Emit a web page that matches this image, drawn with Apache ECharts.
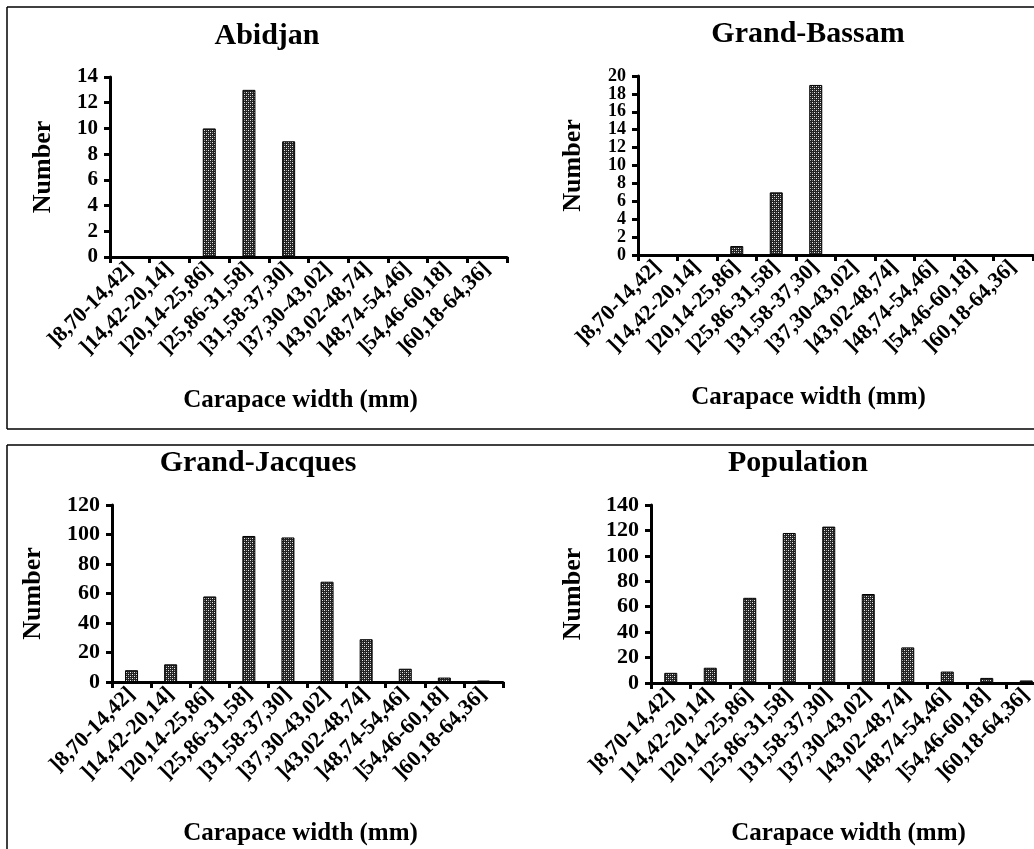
<!DOCTYPE html>
<html>
<head>
  <meta charset="utf-8">
  <title>Carapace width distribution</title>
  <script src="https://cdn.jsdelivr.net/npm/echarts@6.0.0/dist/echarts.min.js"></script>
  <style>
    body { margin: 0; background: #fff; }
    #chart { width: 1034px; height: 849px; }
  </style>
</head>
<body>
  <div id="chart"></div>
  <script>
    const categories = [']8,70-14,42]', ']14,42-20,14]', ']20,14-25,86]', ']25,86-31,58]', ']31,58-37,30]',
      ']37,30-43,02]', ']43,02-48,74]', ']48,74-54,46]', ']54,46-60,18]', ']60,18-64,36]'];
    const abidjan = [0, 0, 10, 13, 9, 0, 0, 0, 0, 0];
    const grandBassam = [0, 0, 1, 7, 19, 0, 0, 0, 0, 0];
    const grandJacques = [8, 12, 58, 99, 98, 68, 29, 9, 3, 1];
    const population = [8, 12, 67, 118, 123, 70, 28, 9, 4, 2];

    const panelTitles = ['Abidjan', 'Grand-Bassam', 'Grand-Jacques', 'Population'];
    const yMax = [14, 20, 120, 140];
    const yStep = [2, 2, 20, 20];

    const FONT = 'Liberation Serif';

    // dotted fill like the printed hatch
    function makePattern() {
      const c = document.createElement('canvas');
      c.width = 4; c.height = 4;
      const g = c.getContext('2d');
      g.fillStyle = '#222'; g.fillRect(0, 0, 4, 4);
      g.fillStyle = '#888';
      g.fillRect(0, 0, 1, 1); g.fillRect(2, 2, 1, 1);
      g.fillStyle = '#eee';
      g.fillRect(2, 0, 1, 1); g.fillRect(0, 2, 1, 1);
      return c;
    }
    const pattern = { image: makePattern(), repeat: 'repeat' };

    const grids = [
      { left: 110, top: 77, width: 397, height: 180 },
      { left: 638, top: 76, width: 395, height: 179 },
      { left: 112, top: 505, width: 391, height: 177 },
      { left: 651, top: 505, width: 395, height: 178 }
    ];
    const titlePos = [[267, 21], [808, 19], [258, 448], [798, 448]];
    const xNameGap = [131, 130, 139, 138];
    const xNamePad = [[0, 16, 0, 0], [0, 54, 0, 0], [0, 14, 0, 0], [0, 0, 0, 0]];
    const yNameGap = [54, 52, 66, 65];
    const yFont = [21, 18, 22, 22];
    const seriesData = [abidjan, grandBassam, grandJacques, population];

    const chart = echarts.init(document.getElementById('chart'));

    const option = {
      backgroundColor: '#fff',
      animation: false,
      title: panelTitles.map((t, i) => ({
        text: t,
        left: titlePos[i][0],
        top: titlePos[i][1],
        textAlign: 'center',
        padding: 0,
        textStyle: { fontFamily: FONT, fontWeight: 'bold', fontSize: 30, color: '#000' }
      })),
      grid: grids.map(g => Object.assign({ outerBoundsMode: 'none', containLabel: false }, g)),
      xAxis: grids.map((g, i) => ({
        type: 'category',
        gridIndex: i,
        data: categories,
        name: 'Carapace width (mm)',
        nameLocation: 'middle',
        nameGap: xNameGap[i],
        nameTextStyle: { fontFamily: FONT, fontWeight: 'bold', fontSize: 25, color: '#000', padding: xNamePad[i] },
        axisLine: { lineStyle: { color: '#000', width: 3 } },
        axisTick: { show: true, length: 6, lineStyle: { color: '#000', width: 3 } },
        axisLabel: {
          rotate: 45, interval: 0, margin: 9,
          fontFamily: FONT, fontWeight: 'bold', fontSize: 22, color: '#000'
        },
        splitLine: { show: false }
      })),
      yAxis: grids.map((g, i) => ({
        type: 'value',
        gridIndex: i,
        min: 0,
        max: yMax[i],
        interval: yStep[i],
        name: 'Number',
        nameLocation: 'middle',
        nameRotate: 90,
        nameGap: yNameGap[i],
        nameTextStyle: { fontFamily: FONT, fontWeight: 'bold', fontSize: 26, color: '#000' },
        axisLine: { show: true, lineStyle: { color: '#000', width: 3 } },
        axisTick: { show: true, length: 6, lineStyle: { color: '#000', width: 3 } },
        axisLabel: { margin: 12, fontFamily: FONT, fontWeight: 'bold', fontSize: yFont[i], color: '#000' },
        splitLine: { show: false }
      })),
      series: seriesData.map((d, i) => ({
        type: 'bar',
        xAxisIndex: i,
        yAxisIndex: i,
        data: d,
        barWidth: 13,
        itemStyle: { color: pattern, borderColor: '#000', borderWidth: 1 }
      })),
      graphic: [
        { type: 'line', shape: { x1: 7, y1: 7, x2: 1034, y2: 7 }, style: { stroke: '#000', lineWidth: 1.5 } },
        { type: 'line', shape: { x1: 7, y1: 7, x2: 7, y2: 429 }, style: { stroke: '#000', lineWidth: 1.5 } },
        { type: 'line', shape: { x1: 7, y1: 429, x2: 1034, y2: 429 }, style: { stroke: '#000', lineWidth: 1.5 } },
        { type: 'line', shape: { x1: 7, y1: 445, x2: 1034, y2: 445 }, style: { stroke: '#000', lineWidth: 1.5 } },
        { type: 'line', shape: { x1: 7, y1: 445, x2: 7, y2: 849 }, style: { stroke: '#000', lineWidth: 1.5 } }
      ]
    };
    chart.setOption(option);
  </script>
</body>
</html>
